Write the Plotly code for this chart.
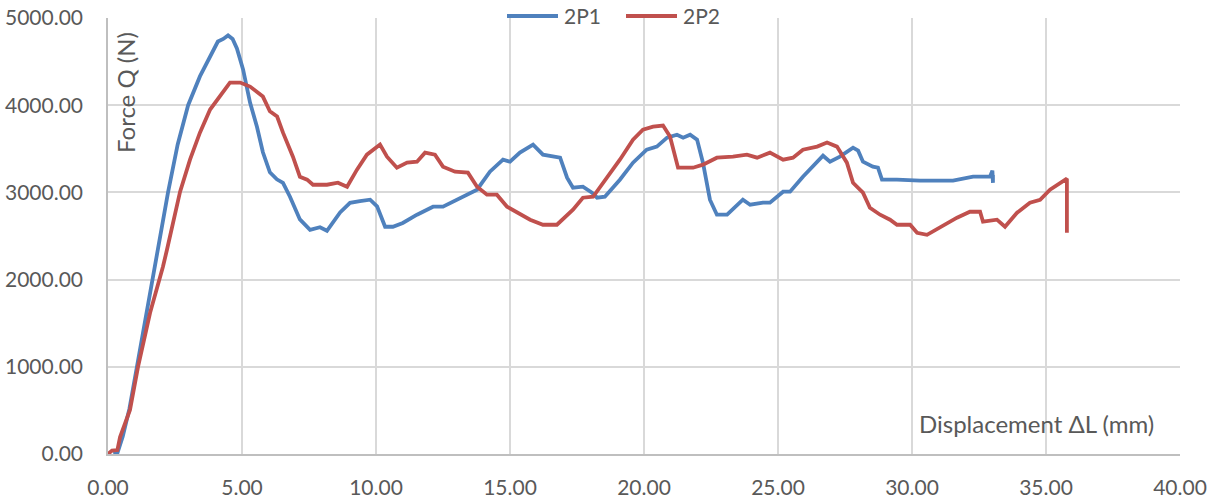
import plotly.graph_objects as go

# 2P1 series (displacement mm, force N)
x_2p1 = [0.20, 0.35, 0.55, 0.80, 1.08, 1.40, 1.68, 1.95, 2.24, 2.60, 2.99, 3.43, 3.80, 4.10, 4.30,
         4.48, 4.65, 4.81, 5.04, 5.30, 5.56, 5.78, 6.04, 6.30, 6.53, 6.79, 7.16, 7.54, 7.91, 8.17,
         8.66, 9.03, 9.40, 9.78, 10.04, 10.34, 10.63, 11.00, 11.53, 12.13, 12.50, 13.25, 13.77, 14.25,
         14.74, 15.00, 15.37, 15.86, 16.23, 16.87, 17.13, 17.35, 17.72, 18.06, 18.25, 18.54, 19.10,
         19.59, 20.10, 20.48, 20.86, 21.23, 21.46, 21.72, 21.98, 22.20, 22.46, 22.72, 23.10, 23.69,
         23.96, 24.44, 24.70, 25.19, 25.45, 25.93, 26.46, 26.68, 26.94, 27.31, 27.80, 27.99, 28.17,
         28.54, 28.73, 28.88, 29.44, 30.30, 31.53, 32.28, 32.91, 33.00, 33.02, 33.02]
y_2p1 = [0, 10, 200, 520, 1000, 1550, 2000, 2520, 3000, 3550, 4000, 4330, 4560, 4730, 4760,
         4800, 4760, 4650, 4410, 4030, 3750, 3460, 3230, 3150, 3110, 2950, 2690, 2570, 2600, 2560,
         2770, 2880, 2900, 2916, 2840, 2606, 2606, 2650, 2744, 2836, 2836, 2950, 3031, 3238,
         3375, 3352, 3456, 3548, 3433, 3398, 3169, 3054, 3065, 2997, 2939, 2950, 3146,
         3341, 3490, 3525, 3628, 3662, 3628, 3662, 3605, 3341, 2916, 2744, 2744, 2916,
         2859, 2882, 2882, 3008, 3008, 3180, 3341, 3421, 3352, 3410, 3513, 3479, 3352,
         3295, 3283, 3146, 3146, 3134, 3134, 3180, 3180, 3250, 3110, 3200]

# 2P2 series
x_2p2 = [0.00, 0.15, 0.35, 0.45, 0.82, 1.12, 1.57, 1.94, 2.05, 2.20, 2.69, 3.06, 3.43, 3.81, 4.18,
         4.55, 4.93, 5.30, 5.78, 6.04, 6.31, 6.53, 6.90, 7.16, 7.43, 7.65, 8.17, 8.58, 8.92, 9.29,
         9.66, 10.15, 10.41, 10.78, 11.16, 11.53, 11.83, 12.20, 12.50, 12.95, 13.43, 13.77, 14.14,
         14.51, 14.89, 15.26, 15.75, 16.23, 16.75, 17.35, 17.72, 18.10, 18.62, 19.10, 19.59, 19.96,
         20.34, 20.71, 20.97, 21.27, 21.83, 22.20, 22.72, 23.32, 23.84, 24.22, 24.70, 25.19, 25.56,
         25.93, 26.46, 26.83, 27.20, 27.57, 27.80, 28.17, 28.43, 28.81, 29.18, 29.44, 29.93, 30.19,
         30.56, 31.04, 31.68, 32.16, 32.54, 32.65, 33.17, 33.47, 33.92, 34.40, 34.78, 35.15, 35.52,
         35.78, 35.78]
y_2p2 = [0, 40, 45, 195, 505, 1000, 1619, 2000, 2147, 2342, 3008, 3375, 3685, 3950, 4099,
         4260, 4260, 4214, 4099, 3930, 3870, 3685, 3410, 3180, 3146, 3088, 3088, 3111, 3065, 3261,
         3433, 3548, 3410, 3283, 3341, 3352, 3456, 3433, 3295, 3238, 3226, 3065, 2974,
         2974, 2836, 2767, 2687, 2629, 2629, 2801, 2939, 2950, 3169, 3375, 3605, 3720,
         3754, 3766, 3640, 3283, 3283, 3318, 3398, 3410, 3433, 3398, 3456, 3375, 3398,
         3490, 3525, 3571, 3525, 3341, 3111, 2997, 2824, 2744, 2687, 2629, 2629, 2537,
         2514, 2595, 2710, 2778, 2778, 2664, 2687, 2606, 2767, 2882, 2916, 3031, 3111,
         3157, 2537]

x_ticks = [0, 5, 10, 15, 20, 25, 30, 35, 40]
y_ticks = [0, 1000, 2000, 3000, 4000, 5000]
series_names = ["2P1", "2P2"]
series_colors = ["#4f81bd", "#c0504d"]

FONT = "Lato"
GRAY = "#595959"
FS = 21
FS_TITLE = 24

L, R, T, B = 108, 33, 18, 44
PW = 1213 - L - R
PH = 498 - T - B


def px2paper_x(px):
    return (px - L) / PW


def px2paper_y(py):
    return (498 - B - py) / PH


fig = go.Figure()
for xs, ys, nm, col in [(x_2p1, y_2p1, series_names[0], series_colors[0]),
                        (x_2p2, y_2p2, series_names[1], series_colors[1])]:
    fig.add_trace(go.Scatter(x=xs, y=ys, mode="lines", name=nm,
                             line=dict(color=col, width=3.8), showlegend=False))

shapes = []
annotations = [
    dict(text="Force Q (N)", xref="paper", yref="paper",
         x=px2paper_x(125), y=px2paper_y(93), textangle=-90,
         showarrow=False, font=dict(size=FS_TITLE, color=GRAY),
         xanchor="center", yanchor="middle"),
    dict(text="Displacement ΔL (mm)", xref="paper", yref="paper",
         x=px2paper_x(1036), y=px2paper_y(423),
         showarrow=False, font=dict(size=FS_TITLE, color=GRAY),
         xanchor="center", yanchor="middle"),
]
# manual legend (top centre)
leg_items = [(507, 558, 562), (626, 677, 681)]
for (x0, x1, tx), nm, col in zip(leg_items, series_names, series_colors):
    shapes.append(dict(type="line", xref="paper", yref="paper",
                       x0=px2paper_x(x0), x1=px2paper_x(x1),
                       y0=px2paper_y(16), y1=px2paper_y(16),
                       line=dict(color=col, width=3.8)))
    annotations.append(dict(text=nm, xref="paper", yref="paper",
                            x=px2paper_x(tx), y=px2paper_y(16),
                            xanchor="left", yanchor="middle", showarrow=False,
                            font=dict(size=FS, color=GRAY)))

fig.update_layout(
    width=1213, height=498,
    margin=dict(l=L, r=R, t=T, b=B, autoexpand=False),
    paper_bgcolor="white", plot_bgcolor="white",
    font=dict(family=FONT, size=FS, color=GRAY),
    showlegend=False,
    xaxis=dict(range=[0, 40], tickvals=x_ticks, tickformat=".2f",
               showgrid=True, gridcolor="#d9d9d9", gridwidth=1.5,
               zeroline=False, showline=True, linecolor="#bfbfbf", linewidth=1.5,
               ticks="", ticklabelstandoff=14, automargin=False),
    yaxis=dict(range=[0, 5000], tickvals=y_ticks, tickformat=".2f",
               showgrid=True, gridcolor="#d9d9d9", gridwidth=1.5,
               zeroline=False, showline=True, linecolor="#bfbfbf", linewidth=1.5,
               ticks="", ticklabelstandoff=19, automargin=False),
    shapes=shapes,
    annotations=annotations,
)

fig.write_html("out.html",
               config={"displayModeBar": False},
               post_script="document.body.style.margin='0';document.body.style.overflow='hidden';")
